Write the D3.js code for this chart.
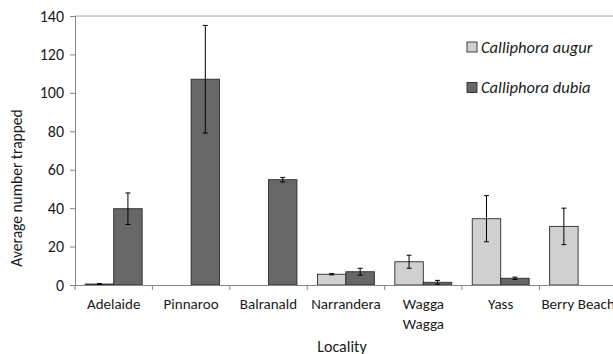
<!DOCTYPE html>
<html>
<head>
<meta charset="utf-8">
<script src="https://cdn.jsdelivr.net/npm/d3@7"></script>
<style>
  html, body { margin: 0; padding: 0; background: #fff; }
  svg { display: block; font-family: Carlito, Lato, "Open Sans", sans-serif; }
</style>
</head>
<body>
<svg id="chart" width="613" height="354"></svg>
<script>
// Locality names (multi-line labels split on "\n")
const localities = ["Adelaide", "Pinnaroo", "Balranald", "Narrandera", "Wagga\nWagga", "Yass", "Berry Beach"];
const speciesNames = ["Calliphora augur", "Calliphora dubia"];
// Mean number trapped per locality
const augurMeans = [0.5, 0, 0, 5.6, 12.1, 34.5, 30.5];
const dubiaMeans = [39.7, 107.1, 54.8, 6.9, 1.4, 3.5, 0];
// Error bar half-widths
const augurErr = [0.2, 0, 0, 0.3, 3.4, 12.0, 9.5];
const dubiaErr = [8.2, 28.0, 1.2, 1.8, 1.0, 0.6, 0];
const yTicks = [0, 20, 40, 60, 80, 100, 120, 140];

const svg = d3.select("#chart");
const plotLeft = 75, plotTop = 16, plotBottom = 285;
const bandW = 77.4;
const plotRight = plotLeft + bandW * localities.length;

const x = d3.scaleBand().domain(localities).range([plotLeft, plotRight]).paddingInner(0).paddingOuter(0);
const y = d3.scaleLinear().domain([0, 140]).range([plotBottom, plotTop]);
const sub = d3.scaleBand().domain(speciesNames).range([0, x.bandwidth()]).paddingInner(0).paddingOuter(0.36);
const fills = { "Calliphora augur": "#d0d0d0", "Calliphora dubia": "#676767" };

// top gridline
svg.append("line")
  .attr("x1", plotLeft).attr("x2", 613)
  .attr("y1", y(140)).attr("y2", y(140))
  .attr("stroke", "#a6a6a6").attr("stroke-width", 1);

// y axis
const yAxis = d3.axisLeft(y).tickValues(yTicks).tickSize(5).tickPadding(6);
const gy = svg.append("g").attr("transform", `translate(${plotLeft},0)`).call(yAxis);
gy.select(".domain").attr("stroke", "#868686");
gy.selectAll(".tick line").attr("stroke", "#868686");
gy.selectAll(".tick text").attr("font-size", 16).attr("fill", "#1a1a1a")
  .attr("font-family", "Carlito, Lato, 'Open Sans', sans-serif");

const rows = localities.map((loc, i) => ({
  loc,
  bars: [
    { sp: speciesNames[0], v: augurMeans[i], e: augurErr[i] },
    { sp: speciesNames[1], v: dubiaMeans[i], e: dubiaErr[i] }
  ]
}));

const groups = svg.append("g").selectAll("g").data(rows).join("g")
  .attr("transform", d => `translate(${x(d.loc)},0)`);

groups.selectAll("rect").data(d => d.bars.filter(b => b.v > 0)).join("rect")
  .attr("x", b => sub(b.sp))
  .attr("width", sub.bandwidth())
  .attr("y", b => y(b.v))
  .attr("height", b => y(0) - y(b.v))
  .attr("fill", b => fills[b.sp])
  .attr("stroke", "#2b2b2b").attr("stroke-width", 0.9);

// error bars
const eb = groups.selectAll("g.err").data(d => d.bars.filter(b => b.v > 0)).join("g").attr("class", "err")
  .attr("transform", b => `translate(${sub(b.sp) + sub.bandwidth() / 2},0)`);
eb.append("line").attr("y1", b => y(b.v + b.e)).attr("y2", b => y(b.v - b.e))
  .attr("stroke", "#000").attr("stroke-width", 1);
eb.append("line").attr("x1", -2.5).attr("x2", 2.5).attr("y1", b => y(b.v + b.e)).attr("y2", b => y(b.v + b.e))
  .attr("stroke", "#000").attr("stroke-width", 1);
eb.append("line").attr("x1", -2.5).attr("x2", 2.5).attr("y1", b => y(b.v - b.e)).attr("y2", b => y(b.v - b.e))
  .attr("stroke", "#000").attr("stroke-width", 1);

// x axis baseline and category ticks
svg.append("line").attr("x1", plotLeft).attr("x2", 613).attr("y1", plotBottom + 0.5).attr("y2", plotBottom + 0.5)
  .attr("stroke", "#868686");
svg.append("g").selectAll("line").data(localities).join("line")
  .attr("x1", d => x(d)).attr("x2", d => x(d))
  .attr("y1", plotBottom).attr("y2", plotBottom + 5).attr("stroke", "#868686");

// category labels
const lbl = svg.append("g").selectAll("text").data(localities).join("text")
  .attr("x", d => x(d) + x.bandwidth() / 2)
  .attr("y", 309)
  .attr("text-anchor", "middle")
  .attr("font-size", 15).attr("fill", "#1a1a1a");
lbl.each(function(d) {
  const parts = d.split("\n");
  const t = d3.select(this);
  parts.forEach((p, k) => t.append("tspan").attr("x", x(d) + x.bandwidth() / 2).attr("dy", k === 0 ? 0 : 19.5).text(p));
});

// axis titles
svg.append("text").attr("x", 342).attr("y", 352).attr("text-anchor", "middle")
  .attr("font-size", 16).attr("fill", "#1a1a1a").text("Locality");
svg.append("text").attr("transform", "translate(22,188) rotate(-90)").attr("text-anchor", "middle")
  .attr("font-size", 15.5).attr("fill", "#1a1a1a").text("Average number trapped");

// legend
const leg = svg.append("g").selectAll("g").data(speciesNames).join("g")
  .attr("transform", (d, i) => `translate(467,${42 + i * 40.5})`);
leg.append("rect").attr("width", 10).attr("height", 10)
  .attr("fill", d => fills[d]).attr("stroke", "#2b2b2b").attr("stroke-width", 0.9);
leg.append("text").attr("x", 14).attr("y", 10.5)
  .attr("font-size", 16.5).attr("font-style", "italic").attr("fill", "#1a1a1a").text(d => d);
</script>
</body>
</html>
